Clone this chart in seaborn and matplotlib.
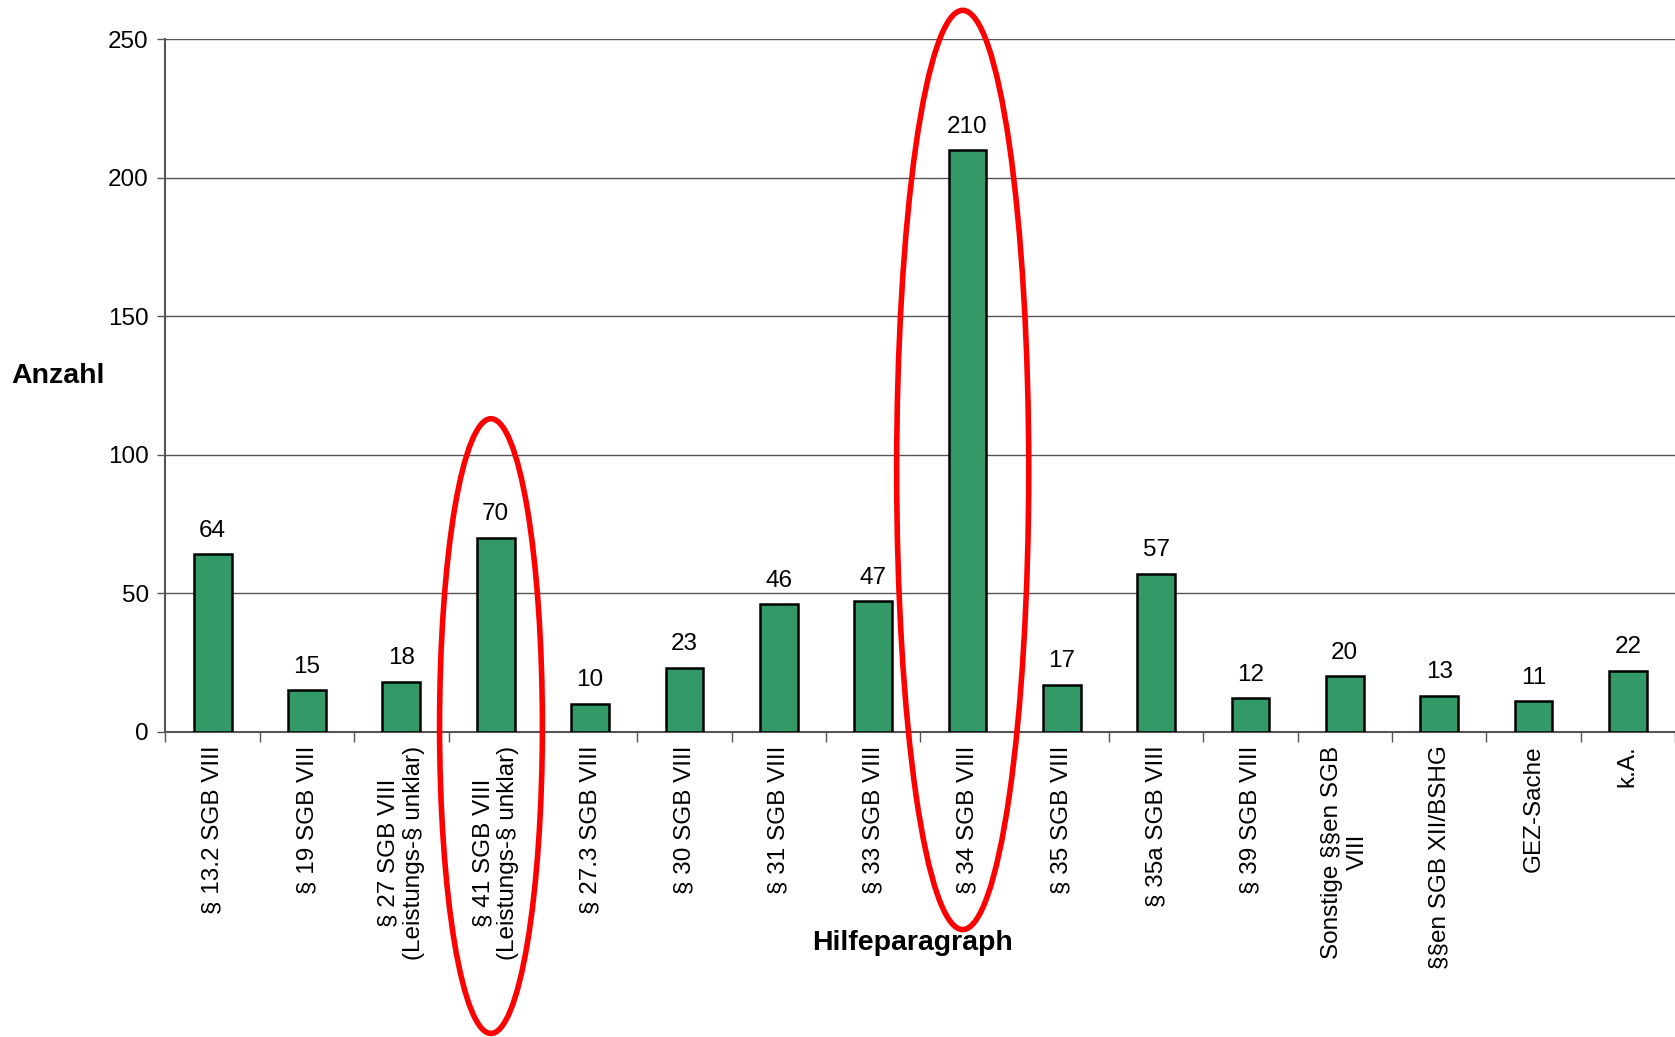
import numpy as np
import pandas as pd
import matplotlib
matplotlib.use('Agg')
import matplotlib.pyplot as plt
from matplotlib.patches import Ellipse
import seaborn as sns

# Daten
kategorien = [
    '§ 13.2 SGB VIII', '§ 19 SGB VIII', '§ 27 SGB VIII\n(Leistungs-§ unklar)',
    '§ 41 SGB VIII\n(Leistungs-§ unklar)', '§ 27.3 SGB VIII', '§ 30 SGB VIII',
    '§ 31 SGB VIII', '§ 33 SGB VIII', '§ 34 SGB VIII', '§ 35 SGB VIII',
    '§ 35a SGB VIII', '§ 39 SGB VIII', 'Sonstige §§en SGB\nVIII',
    '§§en SGB XII/BSHG', 'GEZ-Sache', 'k.A.',
]
anzahl = [64, 15, 18, 70, 10, 23, 46, 47, 210, 17, 57, 12, 20, 13, 11, 22]
markiert = ['§ 41 SGB VIII\n(Leistungs-§ unklar)', '§ 34 SGB VIII']

df = pd.DataFrame({'kategorie': kategorien, 'anzahl': anzahl})

sns.set_style('white')
plt.rcParams['font.family'] = ['Liberation Sans', 'DejaVu Sans']
plt.rcParams['text.color'] = 'black'
plt.rcParams['xtick.labelcolor'] = 'black'
plt.rcParams['ytick.labelcolor'] = 'black'

fig = plt.figure(figsize=(16.75, 10.37), dpi=100)
ax = fig.add_axes([0.0988, 0.2945, 0.9012, 0.6675])

sns.barplot(data=df, x='kategorie', y='anzahl', color='#339966', width=0.4,
            edgecolor='black', linewidth=1.8, saturation=1, ax=ax, zorder=3)
for c in ax.containers:
    ax.bar_label(c, labels=[str(v) for v in anzahl], padding=9, fontsize=17.5,
                 color='black')

ax.set_xlim(-0.5, len(kategorien) - 0.5)
ax.set_ylim(0, 250)
ax.set_yticks([0, 50, 100, 150, 200, 250])
ax.yaxis.grid(True, color='#555555', linewidth=1.0)
ax.set_axisbelow(True)
ax.tick_params(axis='y', labelsize=17.5, length=6, width=1, color='#555555',
               direction='out', left=True, pad=6)

# Kategorienbeschriftung mittig, Striche an den Grenzen
ax.set_xticks(range(len(kategorien)))
ax.set_xticklabels(kategorien, rotation=90, fontsize=17.5, va='top',
                   ha='center', multialignment='center')
ax.tick_params(axis='x', which='major', length=0, pad=10)
ax.set_xticks(np.arange(-0.5, len(kategorien), 1.0), minor=True)
ax.tick_params(axis='x', which='minor', length=7, width=1, color='#555555',
               direction='out', bottom=True)

for side in ['top', 'right']:
    ax.spines[side].set_visible(False)
for side in ['left', 'bottom']:
    ax.spines[side].set_color('#555555')
    ax.spines[side].set_linewidth(1.5)

ax.set_xlabel('')
ax.set_ylabel('')
fig.text(0.0345, 0.637, 'Anzahl', fontsize=20.5, fontweight='bold',
         ha='center', va='center')
fig.text(0.545, 0.0905, 'Hilfeparagraph', fontsize=20.5, fontweight='bold',
         ha='center', va='center')

# rote Markierungen
pos = {k: i for i, k in enumerate(kategorien)}
for k, b, h, yc in [(markiert[0], 1.09, 222, 2), (markiert[1], 1.40, 332, 94.5)]:
    e = Ellipse((pos[k] - 0.05, yc), b, h, fill=False, edgecolor='red',
                linewidth=4, clip_on=False, zorder=5)
    ax.add_patch(e)

plt.savefig('out.png', dpi=100)
